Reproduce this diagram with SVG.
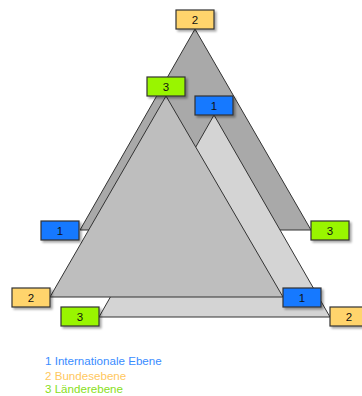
<svg xmlns="http://www.w3.org/2000/svg" width="362" height="396" viewBox="0 0 362 396">
  <defs>
    <filter id="shadow" x="-20%" y="-20%" width="150%" height="160%">
      <feGaussianBlur in="SourceAlpha" stdDeviation="1"/>
      <feOffset dx="2" dy="2" result="b"/>
      <feComponentTransfer><feFuncA type="linear" slope="0.35"/></feComponentTransfer>
      <feMerge><feMergeNode/><feMergeNode in="SourceGraphic"/></feMerge>
    </filter>
  </defs>
  <style>
    .tri { stroke: #333; stroke-width: 1; stroke-linejoin: miter; }
    .box rect { stroke: #333; stroke-width: 1.2; filter: url(#shadow); }
    .box text { font-family: "Liberation Sans", Arial, sans-serif; font-size: 11.5px; fill: #111; text-anchor: middle; }
    .lvl1 { fill: #1479ff; }
    .lvl2 { fill: #ffd46c; }
    .lvl3 { fill: #99f500; }
    .legend { font-family: "Liberation Sans", Arial, sans-serif; font-size: 11.6px; }
  </style>

  <!-- level triangles, back to front -->
  <g id="triangle-bund">
    <polygon class="tri" fill="#a9a9a9" points="195,29 80,230 311,230"/>
  </g>
  <g id="triangle-international">
    <polygon class="tri" fill="#d4d4d4" points="214,115 99,317 330,317"/>
  </g>
  <g id="triangle-laender">
    <polygon class="tri" fill="#bebebe" points="166,96 50,297 283,297"/>
  </g>

  <!-- corner labels -->
  <g id="n-top-2" class="box"><rect class="lvl2" x="176" y="10" width="38" height="19"/><text x="195" y="24">2</text></g>
  <g id="n-top-3" class="box"><rect class="lvl3" x="147" y="77" width="38" height="19"/><text x="166" y="91">3</text></g>
  <g id="n-top-1" class="box"><rect class="lvl1" x="195" y="96" width="38" height="19"/><text x="214" y="110">1</text></g>
  <g id="n-left-1" class="box"><rect class="lvl1" x="41" y="221" width="38" height="19"/><text x="60" y="235">1</text></g>
  <g id="n-right-3" class="box"><rect class="lvl3" x="311" y="221" width="38" height="19"/><text x="330" y="235">3</text></g>
  <g id="n-left-2" class="box"><rect class="lvl2" x="12" y="288" width="38" height="19"/><text x="31" y="302">2</text></g>
  <g id="n-right-1" class="box"><rect class="lvl1" x="283" y="288" width="38" height="19"/><text x="302" y="302">1</text></g>
  <g id="n-left-3" class="box"><rect class="lvl3" x="61" y="307" width="38" height="19"/><text x="80" y="321">3</text></g>
  <g id="n-right-2" class="box"><rect class="lvl2" x="330" y="307" width="38" height="19"/><text x="349" y="321">2</text></g>

  <g id="connectors"/>

  <!-- legend -->
  <g id="legend" class="legend">
    <text x="45" y="365" fill="#3a8cff">1 Internationale Ebene</text>
    <text x="45" y="379.5" fill="#ffc860">2 Bundesebene</text>
    <text x="45" y="393" fill="#88e020">3 Länderebene</text>
  </g>
</svg>
